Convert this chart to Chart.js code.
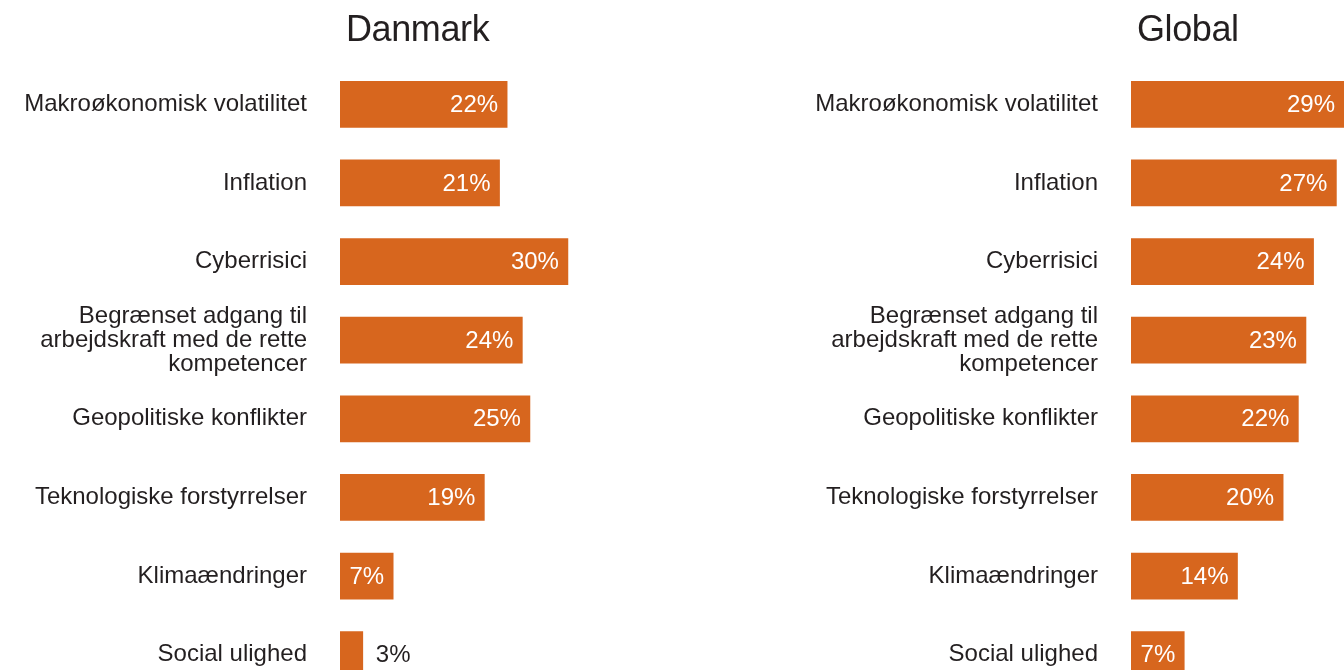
<!DOCTYPE html>
<html>
<head>
<meta charset="utf-8">
<script src="https://cdn.jsdelivr.net/npm/chart.js@4"></script>
<style>
    html, body { margin: 0; padding: 0; background: #fff; overflow: hidden; }
    #wrap { position: relative; width: 1344px; height: 670px; overflow: hidden; }
    .panel { position: absolute; top: 0; width: 672px; height: 739px; }
    .panel h2 {
        position: absolute; top: 8px; margin: 0;
        font-family: "Liberation Sans", Arial, sans-serif;
        font-weight: normal; font-size: 36px; color: #231f20;
        letter-spacing: -0.4px;
    }
</style>
</head>
<body>
<div id="wrap">
    <div class="panel" style="left:0">
        <canvas id="dkChart"></canvas>
        <h2 style="left:346px">Danmark</h2>
    </div>
    <div class="panel" style="left:672px">
        <canvas id="globalChart"></canvas>
        <h2 style="left:465px">Global</h2>
    </div>
</div>
<script>
// ============ 数据 ============
const riskLabels = [
    'Makroøkonomisk volatilitet',
    'Inflation',
    'Cyberrisici',
    ['Begrænset adgang til', 'arbejdskraft med de rette', 'kompetencer'],
    'Geopolitiske konflikter',
    'Teknologiske forstyrrelser',
    'Klimaændringer',
    'Social ulighed'
];
const danmarkValues = [22, 21, 30, 24, 25, 19, 7, 3];
const globalValues = [29, 27, 24, 23, 22, 20, 14, 7];

const BAR_COLOR = '#d7661e';
const TEXT_COLOR = '#231f20';
const FONT_FAMILY = '"Liberation Sans", Arial, sans-serif';

// 条形末端的百分比标签
const valueLabelPlugin = {
    id: 'valueLabels',
    afterDatasetsDraw(chart) {
        const ctx = chart.ctx;
        const meta = chart.getDatasetMeta(0);
        const data = chart.data.datasets[0].data;
        ctx.save();
        ctx.font = '24px ' + FONT_FAMILY;
        ctx.textBaseline = 'middle';
        meta.data.forEach((bar, i) => {
            const text = data[i] + '%';
            const w = ctx.measureText(text).width;
            const end = Math.min(bar.x, chart.chartArea.right);
            if (end - bar.base > w + 14) {
                ctx.fillStyle = '#ffffff';
                ctx.textAlign = 'right';
                ctx.fillText(text, end - 9, bar.y + 1);
            } else {
                ctx.fillStyle = TEXT_COLOR;
                ctx.textAlign = 'left';
                ctx.fillText(text, end + 13, bar.y + 1);
            }
        });
        ctx.restore();
    }
};

function makeChart(canvasId, values, axisWidth, xMax) {
    return new Chart(document.getElementById(canvasId), {
        type: 'bar',
        data: {
            labels: riskLabels,
            datasets: [{
                data: values,
                backgroundColor: BAR_COLOR,
                borderWidth: 0,
                barThickness: 46
            }]
        },
        options: {
            indexAxis: 'y',
            responsive: true,
            maintainAspectRatio: false,
            animation: false,
            layout: { padding: { top: 65, bottom: 0, left: 0, right: 0 } },
            plugins: {
                legend: { display: false },
                tooltip: { enabled: false }
            },
            scales: {
                x: {
                    min: 0,
                    max: xMax,
                    display: false,
                    grid: { display: false }
                },
                y: {
                    grid: { display: false, drawTicks: false },
                    border: { display: false },
                    ticks: {
                        color: TEXT_COLOR,
                        font: { size: 24, family: FONT_FAMILY, lineHeight: 1.0 },
                        padding: 33
                    },
                    afterFit(scale) { scale.width = axisWidth; }
                }
            }
        },
        plugins: [valueLabelPlugin]
    });
}

makeChart('dkChart', danmarkValues, 340, 43.7);
makeChart('globalChart', globalValues, 459, 28);
</script>
</body>
</html>
